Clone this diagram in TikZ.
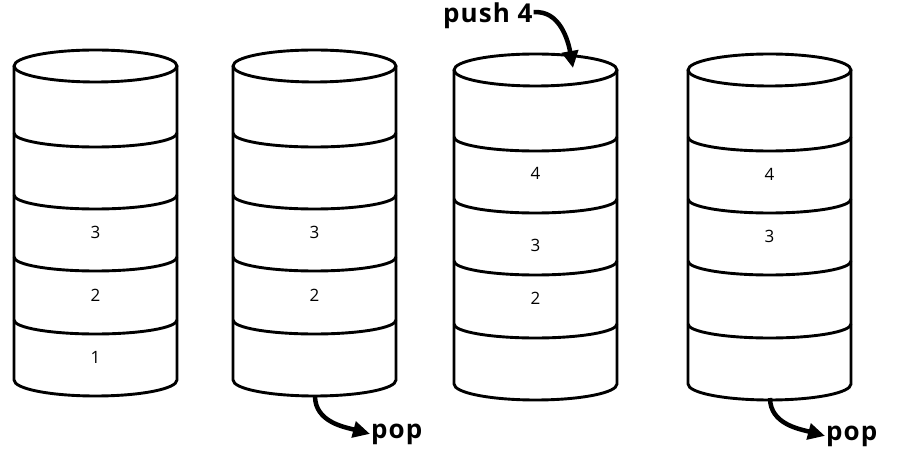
\documentclass[tikz,border=0pt]{standalone}
\usepackage{fontspec}
\setmainfont{Open Sans}
\usetikzlibrary{arrows.meta}

\tikzset{
  stack/.style={line width=2.9pt, line join=round},
  item/.style={font=\fontsize{17}{20}\selectfont},
  op/.style={font=\fontsize{26}{30}\selectfont\bfseries\addfontfeature{LetterSpace=4}, inner sep=1pt},
  opline/.style={line width=4.5pt, -{Triangle[length=17pt,width=16pt]}}
}

\begin{document}
\begin{tikzpicture}[x=1pt,y=1pt]
\useasboundingbox (0,0) rectangle (899,463);

% stacks
\foreach \cx/\ty in {95.5/397, 314.5/397, 535.5/393, 769.5/393} {
  \draw[stack] (\cx,\ty) ellipse[x radius=81.5, y radius=16];
  \draw[stack] (\cx-81.5,\ty) -- (\cx-81.5,\ty-314)
    arc[start angle=180, end angle=360, x radius=81.5, y radius=16]
    -- (\cx+81.5,\ty);
  \foreach \d in {67,129,191,254}
    \draw[stack] (\cx-81.5,\ty-\d) arc[start angle=180, end angle=360, x radius=81.5, y radius=14];
}

% items
\node[item] (a3) at (95.5,231) {3};
\node[item] (a2) at (95.5,168) {2};
\node[item] (a1) at (95.5,106) {1};

\node[item] (b3) at (314.5,231) {3};
\node[item] (b2) at (314.5,168) {2};

\node[item] (c4) at (535.5,290) {4};
\node[item] (c3) at (535.5,218) {3};
\node[item] (c2) at (535.5,165) {2};

\node[item] (d4) at (769.5,289) {4};
\node[item] (d3) at (769.5,227) {3};

% push
\node[op, anchor=base west] (push) at (442,440) {push 4};
\coordinate (in3) at (573,395);
\draw[opline] ([yshift=4pt]push.east) to[out=5, in=100] (in3);

% pops
\coordinate (out2) at (315,67);
\node[op, anchor=base west] (pop2) at (370,25) {pop};
\draw[opline] (out2) to[out=-90, in=165] (pop2.west);

\coordinate (out4) at (770,65);
\node[op, anchor=base west] (pop4) at (825,23) {pop};
\draw[opline] (out4) to[out=-90, in=165] (pop4.west);

\end{tikzpicture}
\end{document}
